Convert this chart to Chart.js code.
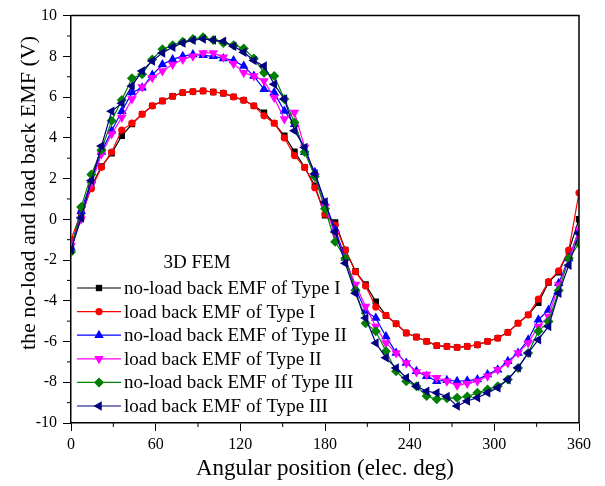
<!DOCTYPE html>
<html lang="en">
<head>
    <meta charset="UTF-8">
    <title>Back EMF</title>
    <script src="https://cdn.jsdelivr.net/npm/chart.js"></script>
    <style>
        body {
            margin: 0;
            background-color: white;
        }
        #emfChart {
            display: block;
        }
    </style>
</head>
<body>

    <canvas id="emfChart" width="605" height="486"></canvas>

    <script>
        // angular position (elec. deg)
        const angles = [0, 7.2, 14.4, 21.6, 28.8, 36, 43.2, 50.4, 57.6, 64.8, 72, 79.2, 86.4, 93.6, 100.8, 108, 115.2, 122.4, 129.6, 136.8, 144, 151.2, 158.4, 165.6, 172.8, 180, 187.2, 194.4, 201.6, 208.8, 216, 223.2, 230.4, 237.6, 244.8, 252, 259.2, 266.4, 273.6, 280.8, 288, 295.2, 302.4, 309.6, 316.8, 324, 331.2, 338.4, 345.6, 352.8, 360];

        const noLoadTypeI = [-1.3, 0.1, 1.6, 2.6, 3.24, 4.1, 4.67, 5.16, 5.57, 5.81, 6.04, 6.22, 6.27, 6.30, 6.25, 6.19, 6.01, 5.85, 5.57, 5.24, 4.72, 4.1, 3.32, 2.55, 1.65, 0.2, -0.15, -1.5, -2.55, -3.2, -4.04, -4.72, -5.13, -5.58, -5.78, -5.99, -6.2, -6.24, -6.29, -6.24, -6.16, -5.99, -5.83, -5.55, -5.1, -4.69, -4.1, -3.1, -2.6, -1.55, 0.0];
        const loadTypeI = [-1.0, 0.35, 1.5, 2.55, 3.3, 4.38, 4.72, 5.16, 5.57, 5.81, 6.04, 6.22, 6.27, 6.30, 6.25, 6.19, 6.01, 5.85, 5.57, 5.08, 4.72, 3.99, 3.13, 2.55, 1.55, 0.25, -0.29, -1.51, -2.57, -3.27, -4.31, -4.72, -5.13, -5.58, -5.78, -5.99, -6.2, -6.24, -6.29, -6.24, -6.16, -5.99, -5.83, -5.55, -5.1, -4.69, -3.92, -3.06, -2.53, -1.51, 1.3];
        const noLoadTypeII = [-1.4, 0.4, 1.9, 3.3, 4.35, 5.3, 6.22, 6.46, 7.08, 7.6, 7.85, 8.01, 8.09, 8.05, 8.0, 7.9, 7.8, 7.52, 7.03, 6.38, 6.22, 5.32, 4.67, 3.29, 2.31, 0.8, -0.5, -1.9, -3.39, -4.5, -4.85, -5.75, -6.56, -7.05, -7.46, -7.7, -7.95, -7.9, -7.95, -7.92, -7.87, -7.62, -7.38, -6.97, -6.56, -5.91, -4.93, -4.45, -3.14, -1.92, -0.54];
        const loadTypeII = [-1.3, 0.0, 1.74, 3.2, 4.19, 5.0, 5.9, 6.5, 6.95, 7.28, 7.6, 7.85, 8.01, 8.17, 8.17, 7.95, 7.64, 7.2, 7.03, 6.79, 5.97, 4.92, 5.24, 3.53, 2.08, 0.6, -0.7, -2.0, -3.2, -4.28, -5.26, -6.07, -6.56, -7.05, -7.5, -7.62, -7.78, -7.95, -8.16, -8.06, -7.95, -7.7, -7.38, -7.05, -6.56, -6.07, -5.26, -4.77, -3.22, -2.0, -0.5];
        const noLoadTypeIII = [-1.6, 0.6, 2.2, 3.4, 4.84, 5.86, 6.92, 7.12, 7.85, 8.35, 8.55, 8.72, 8.85, 8.94, 8.8, 8.65, 8.55, 8.39, 7.9, 7.2, 7.03, 5.9, 4.75, 3.3, 2.1, 0.52, -1.1, -1.92, -3.5, -5.1, -5.5, -6.48, -7.46, -7.95, -8.19, -8.68, -8.84, -8.79, -8.76, -8.7, -8.52, -8.35, -8.19, -7.87, -7.3, -6.56, -5.5, -5.02, -3.5, -1.92, -1.19];
        const loadTypeIII = [-1.5, 0.06, 1.9, 3.6, 5.3, 5.7, 6.55, 7.28, 7.77, 8.17, 8.45, 8.66, 8.79, 8.85, 8.8, 8.74, 8.5, 8.2, 7.8, 7.52, 6.63, 5.9, 4.35, 3.53, 2.23, 0.85, -0.62, -2.16, -3.63, -4.85, -6.07, -6.8, -7.3, -7.78, -8.19, -8.44, -8.52, -8.7, -9.17, -8.92, -8.76, -8.52, -8.27, -7.87, -7.29, -6.56, -5.91, -5.26, -3.63, -2.25, -0.7];

        const seriesNames = ['no-load back EMF of Type I', 'load back EMF of Type I', 'no-load back EMF of Type II', 'load back EMF of Type II', 'no-load back EMF of Type III', 'load back EMF of Type III'];
        const seriesValues = [noLoadTypeI, loadTypeI, noLoadTypeII, loadTypeII, noLoadTypeIII, loadTypeIII];
        const seriesColors = ['#000000', '#ff0000', '#0000ff', '#ff00ff', '#008000', '#000080'];
        const seriesMarkers = ['rect', 'circle', 'triangle', 'triangle', 'rectRot', 'triangle'];
        const markerRotation = [0, 0, 0, 180, 0, 270];
        const markerRadius = [4.5, 3.6, 5.5, 5.5, 5, 5.5];

        const xTicks = [0, 60, 120, 180, 240, 300, 360];
        const yTicks = [-10, -8, -6, -4, -2, 0, 2, 4, 6, 8, 10];

        const serif = "'Liberation Serif', 'Times New Roman', serif";

        const datasets = seriesNames.map((name, i) => ({
            label: name,
            data: angles.map((a, j) => ({ x: a, y: seriesValues[i][j] })),
            borderColor: seriesColors[i],
            backgroundColor: seriesColors[i],
            borderWidth: 1.2,
            pointStyle: seriesMarkers[i],
            pointRotation: markerRotation[i],
            pointRadius: markerRadius[i],
            pointBorderWidth: 0,
            tension: 0,
            order: 6 - i
        }));

        // frame, minor ticks, y title and the legend box
        const extras = {
            id: 'extras',
            afterDraw(chart) {
                const ctx = chart.ctx;
                const area = chart.chartArea;
                const xs = chart.scales.x;
                const ys = chart.scales.y;
                ctx.save();
                ctx.strokeStyle = '#000';
                ctx.lineWidth = 1.5;
                ctx.beginPath();
                ctx.moveTo(area.left, area.top);
                ctx.lineTo(area.right, area.top);
                ctx.lineTo(area.right, area.bottom);
                ctx.stroke();

                ctx.lineWidth = 1;
                ctx.beginPath();
                for (let v = 30; v < 360; v += 60) {
                    const px = xs.getPixelForValue(v);
                    ctx.moveTo(px, area.bottom);
                    ctx.lineTo(px, area.bottom + 4);
                }
                for (let v = -9; v < 10; v += 2) {
                    const py = ys.getPixelForValue(v);
                    ctx.moveTo(area.left, py);
                    ctx.lineTo(area.left - 4, py);
                }
                ctx.stroke();

                ctx.fillStyle = '#000';
                ctx.font = '22px ' + serif;
                ctx.textAlign = 'center';
                ctx.textBaseline = 'middle';
                ctx.translate(29, 193);
                ctx.rotate(-Math.PI / 2);
                ctx.fillText('the no-load and load back EMF (V)', 0, 0);
                ctx.restore();

                ctx.save();
                ctx.fillStyle = '#000';
                ctx.font = '19px ' + serif;
                ctx.textBaseline = 'middle';
                ctx.textAlign = 'center';
                ctx.fillText('3D FEM', 197, 263);
                ctx.textAlign = 'left';
                chart.data.datasets.forEach((ds, i) => {
                    const rowY = 288 + i * 23.6;
                    ctx.strokeStyle = ds.borderColor;
                    ctx.lineWidth = 1.2;
                    ctx.beginPath();
                    ctx.moveTo(77, rowY);
                    ctx.lineTo(121, rowY);
                    ctx.stroke();
                    ctx.fillStyle = ds.borderColor;
                    Chart.helpers.drawPoint(ctx, {
                        pointStyle: ds.pointStyle,
                        rotation: ds.pointRotation,
                        radius: ds.pointRadius,
                        borderWidth: 0
                    }, 99, rowY);
                    ctx.fillStyle = '#000';
                    ctx.fillText(ds.label, 124, rowY + 1);
                });
                ctx.restore();
            }
        };

        new Chart(document.getElementById('emfChart'), {
            type: 'line',
            data: { datasets: datasets },
            options: {
                responsive: false,
                animation: false,
                devicePixelRatio: 1,
                layout: { padding: { top: 14, right: 26, left: 0, bottom: 0 } },
                plugins: {
                    legend: { display: false },
                    tooltip: { enabled: false }
                },
                scales: {
                    x: {
                        type: 'linear',
                        min: 0,
                        max: 360,
                        afterBuildTicks: scale => { scale.ticks = xTicks.map(v => ({ value: v })); },
                        afterFit: scale => { scale.height = 63; },
                        ticks: { color: '#000', font: { family: serif, size: 16 }, padding: 4, maxRotation: 0 },
                        grid: { drawOnChartArea: false, drawTicks: true, tickLength: 8, color: '#000', lineWidth: 1 },
                        border: { display: true, color: '#000', width: 1.5 },
                        title: {
                            display: true,
                            text: 'Angular position (elec. deg)',
                            color: '#000',
                            font: { family: serif, size: 23 },
                            padding: { top: 0, bottom: 3 }
                        }
                    },
                    y: {
                        type: 'linear',
                        min: -10,
                        max: 10,
                        afterBuildTicks: scale => { scale.ticks = yTicks.map(v => ({ value: v })); },
                        afterFit: scale => { scale.width = 71; },
                        ticks: { color: '#000', font: { family: serif, size: 16 }, padding: 6 },
                        grid: { drawOnChartArea: false, drawTicks: true, tickLength: 8, color: '#000', lineWidth: 1 },
                        border: { display: true, color: '#000', width: 1.5 }
                    }
                }
            },
            plugins: [extras]
        });
    </script>
</body>
</html>
